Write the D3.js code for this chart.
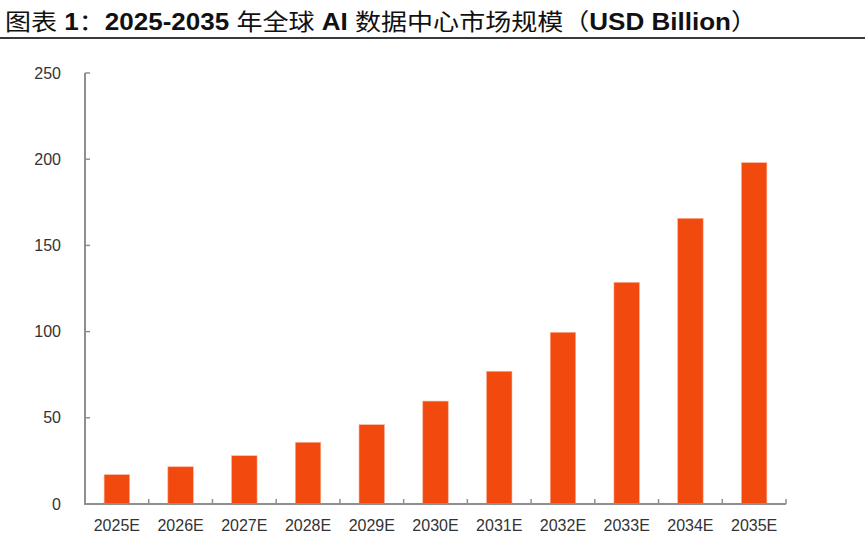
<!DOCTYPE html>
<html>
<head>
<meta charset="utf-8">
<script src="https://cdn.jsdelivr.net/npm/d3@7/dist/d3.min.js"></script>
<style>
  html, body { margin: 0; padding: 0; background: #fff; }
  svg { display: block; }
</style>
</head>
<body>
<svg id="chart" width="865" height="559"></svg>
<script>
// title pieces: [text, isLatinBold]
const titleParts = [["图表", false], [" 1", true], ["：", false], ["2025-2035 ", true], ["年全球", false], [" AI ", true], ["数据中心市场规模", false], ["（", false], ["USD Billion", true], ["）", false]];
const categories = ["2025E","2026E","2027E","2028E","2029E","2030E","2031E","2032E","2033E","2034E","2035E"];
const values = [17.0, 21.6, 28.0, 35.8, 46.0, 59.7, 77.0, 99.6, 128.6, 165.7, 198.0];
const yTicks = [0, 50, 100, 150, 200, 250];

const svg = d3.select("#chart");
const pLeft = 85, pRight = 786, pTop = 73, pBottom = 504;

// title
const title = svg.append("text")
  .attr("x", 5).attr("y", 30)
  .attr("font-family", "'Liberation Sans', Arial, 'Noto Sans CJK SC', sans-serif")
  .attr("font-size", 23)
  .attr("fill", "#111")
  .attr("textLength", 752)
  .attr("lengthAdjust", "spacingAndGlyphs");
title.selectAll("tspan").data(titleParts).join("tspan")
  .attr("font-weight", d => d[1] ? "bold" : "normal")
  .text(d => d[0]);
svg.append("rect")
  .attr("x", 0).attr("y", 37).attr("width", 865).attr("height", 2)
  .attr("fill", "#3a3a3a");

const x = d3.scaleBand().domain(categories).range([pLeft, pRight]).paddingInner(0.6).paddingOuter(0.3);
const xb = d3.scaleBand().domain(categories).range([pLeft, pRight]);
const y = d3.scaleLinear().domain([0, 250]).range([pBottom, pTop]);

// bars
svg.append("g").selectAll("rect").data(values).join("rect")
  .attr("x", (d, i) => x(categories[i]))
  .attr("width", x.bandwidth())
  .attr("y", d => y(d))
  .attr("height", d => y(0) - y(d))
  .attr("fill", "#F2490F")
  .attr("stroke", "#f9b49a")
  .attr("stroke-width", 0.6);

const axisColor = "#8f8f8f";
// y axis
const gy = svg.append("g");
gy.append("line").attr("x1", pLeft).attr("x2", pLeft).attr("y1", pTop).attr("y2", pBottom)
  .attr("stroke", axisColor).attr("stroke-width", 2);
gy.selectAll("line.t").data(yTicks).join("line").attr("class", "t")
  .attr("x1", pLeft).attr("x2", pLeft + 5)
  .attr("y1", d => y(d)).attr("y2", d => y(d))
  .attr("stroke", axisColor).attr("stroke-width", 1.5);
gy.selectAll("text").data(yTicks).join("text")
  .attr("x", 61).attr("y", d => y(d))
  .attr("dy", "0.35em")
  .attr("text-anchor", "end")
  .attr("font-family", "'Liberation Sans', Arial, sans-serif")
  .attr("font-size", 16)
  .attr("fill", "#333")
  .text(d => d);

// x axis
const gx = svg.append("g");
gx.append("line").attr("x1", pLeft - 1).attr("x2", pRight).attr("y1", pBottom).attr("y2", pBottom)
  .attr("stroke", axisColor).attr("stroke-width", 2);
gx.selectAll("line.t").data(categories).join("line").attr("class", "t")
  .attr("x1", d => xb(d) + xb.bandwidth()).attr("x2", d => xb(d) + xb.bandwidth())
  .attr("y1", pBottom).attr("y2", pBottom - 5)
  .attr("stroke", axisColor).attr("stroke-width", 1.5);
gx.selectAll("text").data(categories).join("text")
  .attr("x", d => xb(d) + xb.bandwidth() / 2)
  .attr("y", 531)
  .attr("text-anchor", "middle")
  .attr("font-family", "'Liberation Sans', Arial, sans-serif")
  .attr("font-size", 16)
  .attr("fill", "#333")
  .text(d => d);
</script>
</body>
</html>
